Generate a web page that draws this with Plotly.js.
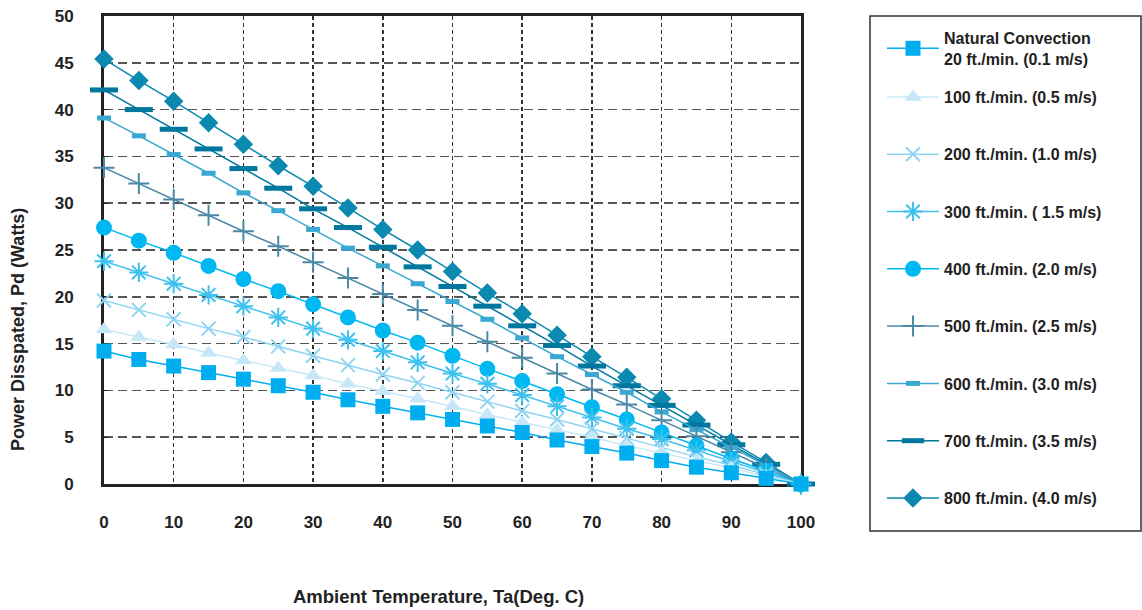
<!DOCTYPE html>
<html>
<head>
<meta charset="utf-8">
<script src="https://cdn.plot.ly/plotly-3.0.1.min.js"></script>
<style>html,body{margin:0;padding:0;background:#fff;}#chart{width:1142px;height:610px;}</style>
</head>
<body>
<div id="chart"></div>
<script>
const temps = [0,5,10,15,20,25,30,35,40,45,50,55,60,65,70,75,80,85,90,95,100];
const seriesNames = [
  "Natural Convection<br>20 ft./min. (0.1 m/s)",
  "100 ft./min. (0.5 m/s)",
  "200 ft./min. (1.0 m/s)",
  "300 ft./min. ( 1.5 m/s)",
  "400 ft./min. (2.0 m/s)",
  "500 ft./min. (2.5 m/s)",
  "600 ft./min. (3.0 m/s)",
  "700 ft./min. (3.5 m/s)",
  "800 ft./min. (4.0 m/s)"
];
const natural = [14.2,13.3,12.6,11.9,11.2,10.5,9.8,9.0,8.3,7.6,6.9,6.2,5.5,4.7,4.0,3.3,2.5,1.8,1.2,0.6,0];
const ft100 = [16.5,15.7,14.9,14.0,13.2,12.4,11.6,10.7,9.9,9.1,8.3,7.4,6.6,5.8,5.0,4.1,3.3,2.5,1.7,0.8,0];
const ft200 = [19.6,18.6,17.6,16.6,15.7,14.7,13.7,12.7,11.7,10.8,9.8,8.8,7.8,6.9,5.9,4.9,3.9,2.9,2.0,1.0,0];
const ft300 = [23.8,22.6,21.4,20.2,19.0,17.8,16.6,15.4,14.2,13.0,11.8,10.7,9.5,8.3,7.1,5.9,4.8,3.6,2.4,1.2,0];
const ft400 = [27.4,26.0,24.7,23.3,21.9,20.6,19.2,17.8,16.4,15.1,13.7,12.3,11.0,9.6,8.2,6.9,5.5,4.1,2.7,1.4,0];
const ft500 = [33.8,32.1,30.4,28.7,27.0,25.4,23.7,22.0,20.3,18.6,16.9,15.2,13.5,11.8,10.1,8.5,6.8,5.1,3.4,1.7,0];
const ft600 = [39.1,37.2,35.2,33.2,31.1,29.2,27.2,25.2,23.3,21.4,19.5,17.6,15.6,13.6,11.7,9.8,7.7,5.8,3.9,2.0,0];
const ft700 = [42.1,40.0,37.9,35.8,33.7,31.6,29.4,27.4,25.3,23.2,21.1,19.0,16.9,14.8,12.6,10.5,8.4,6.3,4.2,2.1,0];
const ft800 = [45.4,43.1,40.9,38.6,36.3,34.0,31.8,29.5,27.2,25.0,22.7,20.4,18.2,15.9,13.6,11.4,9.1,6.8,4.5,2.3,0];
const xTicks = [0,10,20,30,40,50,60,70,80,90,100];
const yTicks = [0,5,10,15,20,25,30,35,40,45,50];
const xTitle = "Ambient Temperature, Ta(Deg. C)";
const yTitle = "Power Disspated, Pd (Watts)";

const allY = [natural, ft100, ft200, ft300, ft400, ft500, ft600, ft700, ft800];
const lineColors = ["#00aeef","#c8e8f8","#8fd5f3","#3dc1ef","#00b8f1","#4b89a6","#3aa8d2","#00779f","#0b89b1"];
const markers = [
  {symbol:"square", size:15, color:"#00aeef"},
  {symbol:"triangle-up", size:15, color:"#c6e7f8"},
  {symbol:"x-thin", size:14, color:"#8fd5f3", line:{width:2, color:"#8fd5f3"}},
  {symbol:"asterisk", size:16, color:"#3dc1ef", line:{width:2, color:"#3dc1ef"}},
  {symbol:"circle", size:16, color:"#00b8f1"},
  {symbol:"cross-thin", size:15, color:"#4b89a6", line:{width:2, color:"#4b89a6"}},
  {symbol:"line-ew", size:10, color:"#3aa8d2", line:{width:5, color:"#3aa8d2"}},
  {symbol:"line-ew", size:20, color:"#00779f", line:{width:5, color:"#00779f"}},
  {symbol:"diamond", size:15, color:"#0b89b1"}
];

const traces = [];
for (let i = allY.length - 1; i >= 0; i--) {
  traces.push({
    x: temps, y: allY[i], type: "scatter", mode: "lines+markers",
    name: seriesNames[i], legendgroup: "g" + i, legendrank: i + 1,
    legend: i === 0 ? "legend" : "legend2",
    line: {color: lineColors[i], width: 1.5},
    marker: markers[i], cliponaxis: false
  });
}

const fontFam = "'Liberation Sans', Arial, Helvetica, sans-serif";
const legFont = {size: 16, family: fontFam, weight: "bold", color: "#222"};
const titleFont = {size: 18.5, family: fontFam, weight: "bold", color: "#222"};
const pxX = px => (px - 104) / 697;
const pxY = py => (484 - py) / 468;
const layout = {
  width: 1142, height: 610,
  margin: {l: 104, r: 341, t: 16, b: 126},
  paper_bgcolor: "#fff", plot_bgcolor: "#fff",
  font: {family: fontFam, color: "#222"},
  showlegend: true,
  xaxis: {
    range: [0, 100], tickvals: xTicks, ticktext: xTicks.map(String),
    showgrid: true, gridcolor: "#333", gridwidth: 1.5, griddash: "4px,3px",
    zeroline: false, showline: true, linecolor: "#222", linewidth: 3, mirror: true,
    layer: "below traces",
    ticks: "", ticklabelstandoff: 21,
    tickfont: {size: 17, family: fontFam, weight: "bold", color: "#222"},
    automargin: false
  },
  yaxis: {
    range: [0, 50], tickvals: yTicks, ticktext: yTicks.map(String),
    showgrid: true, gridcolor: "#555", gridwidth: 1.5, griddash: "9px,5px",
    zeroline: false, showline: true, linecolor: "#222", linewidth: 3, mirror: true,
    layer: "below traces",
    ticks: "inside", ticklen: 4, tickcolor: "#222", ticklabelstandoff: 24,
    tickfont: {size: 17, family: fontFam, weight: "bold", color: "#222"},
    automargin: false
  },
  legend: {
    x: pxX(882), xanchor: "left", y: pxY(21), yanchor: "top",
    bgcolor: "rgba(0,0,0,0)", borderwidth: 0, font: legFont,
    itemwidth: 52, traceorder: "normal"
  },
  legend2: {
    x: pxX(882), xanchor: "left", y: pxY(80), yanchor: "top",
    bgcolor: "rgba(0,0,0,0)", borderwidth: 0, font: legFont,
    itemwidth: 52, traceorder: "grouped", tracegroupgap: 33.5
  },
  annotations: [
    {
      text: yTitle, xref: "paper", yref: "paper", x: (18 - 104) / 697, y: pxY(330),
      xanchor: "center", yanchor: "middle", textangle: -90, showarrow: false,
      font: {size: 18, family: fontFam, weight: "bold", color: "#222"}
    },
    {
      text: xTitle, xref: "paper", yref: "paper", x: pxX(438), y: pxY(608),
      xanchor: "center", yanchor: "bottom", showarrow: false, borderpad: 0, font: titleFont
    }
  ],
  shapes: [{
    type: "rect", xref: "paper", yref: "paper",
    x0: pxX(870), x1: pxX(1141), y0: pxY(531), y1: pxY(16),
    line: {color: "#333", width: 1.5}, fillcolor: "rgba(0,0,0,0)", layer: "below"
  }]
};

Plotly.newPlot("chart", traces, layout, {displayModeBar: false, staticPlot: true});
</script>
</body>
</html>
